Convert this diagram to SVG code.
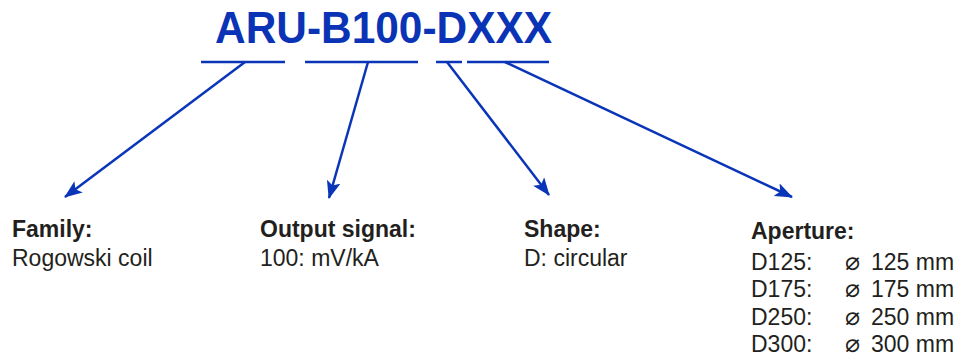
<svg xmlns="http://www.w3.org/2000/svg" width="966" height="360" viewBox="0 0 966 360">
<style>
.t{font-family:"Liberation Sans",Arial,sans-serif;fill:#231f20;font-size:23px}
.b{font-weight:bold}
.s{font-family:"DejaVu Sans","Liberation Sans",sans-serif;font-size:25px}
.u{stroke:#0a35b8;stroke-width:2.5}
.c{stroke:#0a35b8;stroke-width:2.5;fill:none}
</style>
<defs>
<marker id="ah" markerWidth="18" markerHeight="14" refX="17" refY="7" orient="auto" markerUnits="userSpaceOnUse" viewBox="0 0 18 14">
<path d="M0,0 L18,7 L0,14 L4,7 Z" fill="#0a35b8"/>
</marker>
</defs>
<rect width="966" height="360" fill="#fff"/>
<g id="title">
<text x="215" y="43" textLength="337" lengthAdjust="spacingAndGlyphs" style="font-family:'Liberation Sans',Arial,sans-serif;font-weight:bold;font-size:45px;fill:#0a33b5">ARU-B100-DXXX</text>
<line class="u" x1="201" y1="62" x2="285" y2="62"/>
<line class="u" x1="305" y1="62" x2="418" y2="62"/>
<line class="u" x1="436" y1="62" x2="462" y2="62"/>
<line class="u" x1="467" y1="62" x2="549" y2="62"/>
</g>
<g id="connectors">
<path class="c" d="M245,62 L65,197" marker-end="url(#ah)"/>
<path class="c" d="M368,62 L329,198" marker-end="url(#ah)"/>
<path class="c" d="M447,62 L549,195" marker-end="url(#ah)"/>
<path class="c" d="M505,62 L792,197" marker-end="url(#ah)"/>
</g>
<g id="family">
<text class="t b" x="12" y="237">Family:</text>
<text class="t" x="12" y="266">Rogowski coil</text>
</g>
<g id="output">
<text class="t b" x="260" y="237">Output signal:</text>
<text class="t" x="260" y="266">100: mV/kA</text>
</g>
<g id="shape">
<text class="t b" x="524" y="237">Shape:</text>
<text class="t" x="524" y="266">D: circular</text>
</g>
<g id="aperture">
<text class="t b" x="751" y="239">Aperture:</text>
<text class="t" x="751" y="270">D125:</text><text class="t" x="845" y="270"><tspan class="s">⌀</tspan><tspan x="871">125 mm</tspan></text>
<text class="t" x="751" y="297">D175:</text><text class="t" x="845" y="297"><tspan class="s">⌀</tspan><tspan x="871">175 mm</tspan></text>
<text class="t" x="751" y="325">D250:</text><text class="t" x="845" y="325"><tspan class="s">⌀</tspan><tspan x="871">250 mm</tspan></text>
<text class="t" x="751" y="352">D300:</text><text class="t" x="845" y="352"><tspan class="s">⌀</tspan><tspan x="871">300 mm</tspan></text>
</g>
</svg>
